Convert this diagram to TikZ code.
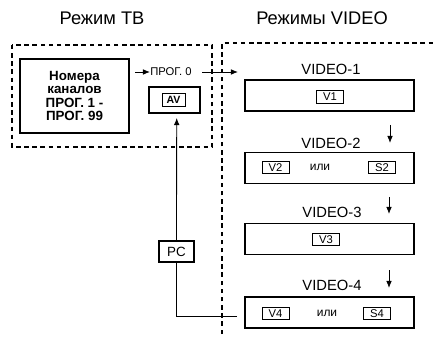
\documentclass[tikz,border=0pt]{standalone}
\usepackage{fontspec}
\setmainfont{Liberation Sans}
\usetikzlibrary{positioning,arrows.meta}
\tikzset{
  zone/.style={line width=0.9pt, dash pattern=on 3.2pt off 2.6pt},
  panel/.style={draw, line width=0.8pt, minimum width=4.225cm, minimum height=0.775cm},
  tag/.style={draw, line width=0.6pt, font=\fontsize{8}{9}\selectfont, inner sep=0pt,
    minimum width=0.675cm, minimum height=0.31cm},
  title/.style={font=\fontsize{13}{15}\selectfont},
  modename/.style={font=\fontsize{10.5}{12}\selectfont},
  orword/.style={font=\fontsize{8.5}{10}\selectfont},
  link/.style={line width=0.6pt, -{Latex[length=5pt,width=4pt]}},
}
\begin{document}
\begin{tikzpicture}[x=0.025cm, y=-0.025cm]
  \useasboundingbox (0,0) rectangle (433,340);
  % headings
  \node[title] (tvtitle) at (102,18) {Режим ТВ};
  \node[title] (vidtitle) at (322,18) {Режимы VIDEO};
  % mode areas
  \draw[zone] (12,45) rectangle (212,147);
  \draw[zone] (222,334) -- (222,43) -- (433,43);
  % TV side
  \node[draw, line width=0.9pt, minimum width=2.725cm, minimum height=1.85cm,
        align=center, font=\fontsize{9.5}{9.6}\selectfont\bfseries]
        (chan) at (74.5,96) {Номера\\каналов\\ПРОГ. 1 -\\ПРОГ. 99};
  \node[font=\fontsize{8}{9}\selectfont, anchor=west, inner sep=0pt] (prog0) at (150,72) {ПРОГ. 0};
  \coordinate (p0in) at (135,72);
  \coordinate (p0start) at (202,72);
  \coordinate (p0out) at (238,72);
  \draw[link] (p0in) -- (prog0.west);
  \draw[link] (p0start) -- (p0out);
  \node[draw, line width=0.8pt, minimum width=1.275cm, minimum height=0.65cm] (avbox) at (174.5,100) {};
  \node[tag, minimum width=0.575cm, minimum height=0.325cm, font=\fontsize{7.5}{8}\selectfont\bfseries] (av) at (173.5,99.5) {AV};
  % VIDEO side
  \node[modename] (v1name) at (331,69) {VIDEO-1};
  \node[panel] (vid1) at (329.5,95.5) {};
  \node[tag] (v1) at (330,97) {V1};
  \node[modename] (v2name) at (331,143) {VIDEO-2};
  \node[panel] (vid2) at (329.5,168) {};
  \node[tag] (v2) at (275.5,167.5) {V2};
  \node[orword] (or2) at (320,167) {или};
  \node[tag] (s2) at (382,167.5) {S2};
  \node[modename] (v3name) at (332,212) {VIDEO-3};
  \node[panel] (vid3) at (329.5,239) {};
  \node[tag] (v3) at (326,239.5) {V3};
  \node[modename] (v4name) at (332,285) {VIDEO-4};
  \node[panel] (vid4) at (329.5,312.5) {};
  \node[tag] (v4) at (275.5,313.5) {V4};
  \node[orword] (or4) at (327,313) {или};
  \node[tag] (s4) at (377,313.5) {S4};
  % steps down
  \coordinate (d1a) at (390,125); \coordinate (d1b) at (390,143);
  \coordinate (d2a) at (389,197); \coordinate (d2b) at (389,214);
  \coordinate (d3a) at (389,270); \coordinate (d3b) at (389,288);
  \draw[link] (d1a) -- (d1b);
  \draw[link] (d2a) -- (d2b);
  \draw[link] (d3a) -- (d3b);
  % back to AV
  \node[draw, line width=0.75pt, minimum width=0.875cm, minimum height=0.525cm,
        font=\fontsize{9.5}{10}\selectfont] (pc) at (176.5,251.5) {PC};
  \coordinate (back) at (237,316);
  \coordinate (avin) at (176.7,118);
  \draw[line width=0.6pt] (back) -| (pc.south);
  \draw[link] (pc.north) -- (avin);
\end{tikzpicture}
\end{document}
